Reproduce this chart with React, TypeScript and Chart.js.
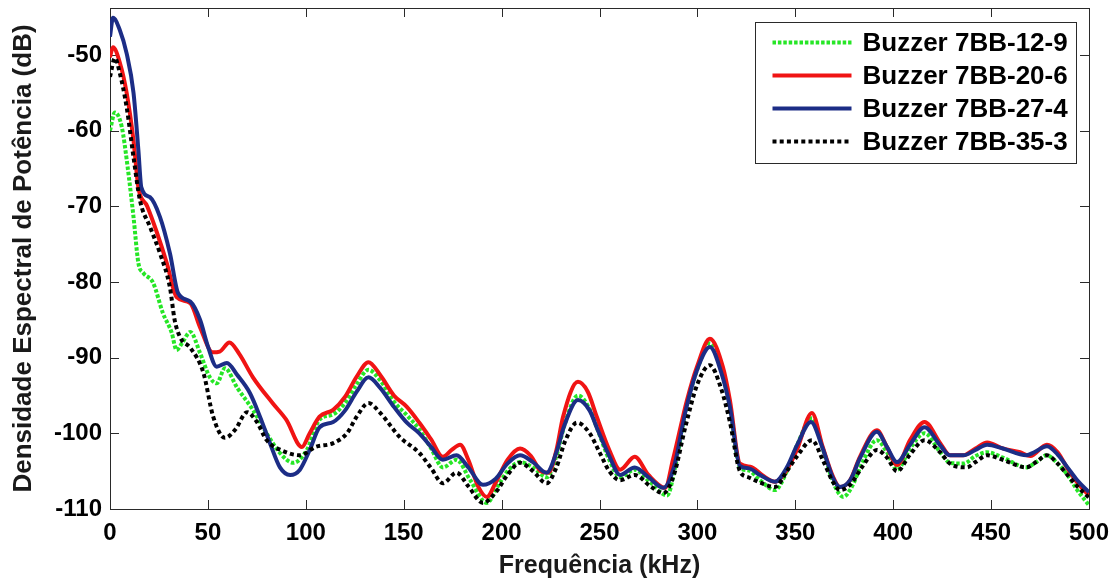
import React, { useEffect, useRef } from "react";
import { Chart, registerables } from "chart.js";

Chart.register(...registerables);

// ---- data ----
const xTickValues = [0, 50, 100, 150, 200, 250, 300, 350, 400, 450, 500];
const yTickValues = [-110, -100, -90, -80, -70, -60, -50];

const seriesLabels = ["Buzzer 7BB-12-9", "Buzzer 7BB-20-6", "Buzzer 7BB-27-4", "Buzzer 7BB-35-3"];

// Buzzer 7BB-12-9 (green dotted)
const gFreq = [0, 2.5, 6, 9, 12, 14.5, 17, 22, 27, 31.5, 34, 37, 41, 46, 51, 54.5, 58.7, 65, 73, 80, 86.8, 93.6, 100.5, 107, 114, 120, 126, 132, 138, 145, 151.6, 158, 164, 170, 177, 184, 192.5, 198, 203, 209.4, 216, 223, 228, 232, 239, 245, 249, 255, 260.5, 268, 276, 284.5, 289, 294, 300, 306.4, 312, 316.6, 321.7, 326, 332, 339.6, 345.7, 351, 358.5, 364, 369.4, 374.5, 379, 384, 391.7, 396.8, 402, 408.6, 416, 424, 429, 436, 442, 448, 456, 468, 473, 478.5, 484, 489, 494, 500];
const gPsd = [-60, -57.6, -59.5, -64.8, -71.4, -77.5, -78.8, -80.1, -84.1, -86.7, -89, -88, -86.6, -89.4, -92.6, -93.4, -91.4, -94, -96.9, -100, -102.6, -103.9, -102.2, -98.2, -97.5, -96, -93.5, -91.6, -93, -95.8, -97.6, -99.5, -102, -104.5, -103.5, -106.2, -109.2, -107, -105, -103.8, -104.5, -105.8, -103, -99, -95, -96.8, -99.5, -103.5, -105.8, -104.8, -106.5, -108.2, -104, -97, -91.5, -88.1, -91.5, -96.5, -104.5, -104.9, -106.2, -107.5, -105, -101.5, -98, -102, -106.5, -108.4, -107, -104, -100.9, -102.5, -104.8, -102, -100, -102.5, -103.9, -104, -103, -102.5, -103.2, -104.5, -103.8, -102.9, -104, -105.5, -107.5, -109.5];

// Buzzer 7BB-20-6 (red solid)
const rFreq = [0, 1.5, 5, 8.5, 12, 14.5, 19, 24, 29, 34, 41, 46, 52.5, 56, 61, 66, 73, 83, 90, 98, 102, 107, 114, 120, 126, 132, 138, 145, 151.6, 158, 164, 170, 174.5, 178.8, 183, 188, 192.5, 197, 203, 209.4, 215, 220, 224, 228, 231.4, 239, 244, 248.6, 255, 260.5, 268, 275, 283.5, 287.5, 294.7, 299.8, 306.4, 313, 316.6, 321.7, 327, 333, 339.6, 345.7, 350.8, 358.5, 364, 369.4, 372.8, 378, 383, 391.7, 396.8, 402, 408.6, 416, 424, 429, 435.6, 442, 448, 456, 464.8, 470, 478.5, 484, 488.7, 494, 500];
const rPsd = [-50.3, -49, -51, -55, -61.3, -67.5, -70, -73.5, -77.5, -82, -82.8, -86, -89.3, -89.2, -88, -89.5, -92.6, -96, -98.2, -101.8, -100, -97.8, -96.9, -95.2, -92.5, -90.6, -92.3, -95, -96.5, -98.6, -100.8, -103.1, -102.2, -101.5, -103.5, -107, -108.4, -106.5, -103.5, -102, -103, -105, -105.2, -102.2, -97.8, -93.2, -94.5, -97.8, -102.2, -104.8, -103.1, -105.5, -107.2, -103.5, -95.6, -91.2, -87.5, -91.2, -95.6, -104, -104.4, -105.5, -106.4, -104.8, -102.2, -97.3, -101.8, -105.8, -107.1, -106.2, -103.1, -99.6, -101.8, -104.2, -100.9, -98.5, -101.3, -102.9, -102.9, -102, -101.2, -102, -102.5, -103, -101.5, -102.5, -104.5, -106.5, -108.2];

// Buzzer 7BB-27-4 (blue solid)
const bFreq = [0, 1.5, 5, 8.5, 12, 14.5, 16, 20.4, 25.5, 30.6, 34.8, 41, 46, 50, 54.5, 59.7, 65, 71.5, 76.6, 81.7, 86.8, 92, 97, 102, 107, 114, 120, 126, 132, 138, 145, 151.6, 158, 164, 170, 177, 183, 190.5, 197, 203, 209.4, 216, 223, 228, 232, 239, 245, 249, 255, 260.5, 268, 275, 282.6, 288, 294, 300, 306.4, 312, 316.6, 321.7, 326, 332, 339.6, 345.7, 351, 358, 364, 369.4, 372.8, 378, 383, 391.7, 396.8, 402, 408.6, 416, 424, 429, 436, 442, 448, 456, 468, 472, 478.5, 484, 489, 494, 500];
const bPsd = [-47.6, -45.1, -46.7, -49.8, -55, -62.6, -67.5, -68.8, -71.4, -76.2, -81.5, -82.6, -85, -88.5, -91.2, -90.7, -92.3, -94.7, -97.8, -101.3, -104.5, -105.5, -104.8, -102.2, -99.2, -98.5, -97, -94.5, -92.6, -94, -96.5, -98.6, -100, -101.8, -103.5, -102.9, -104.5, -106.8, -106, -104, -102.9, -103.8, -105.2, -102.5, -99, -95.6, -97, -99.5, -103, -105.5, -104.5, -105.8, -107.2, -104.5, -97, -91.5, -88.6, -91.8, -96.5, -104.3, -104.6, -105.5, -106.4, -104.5, -101.5, -98.5, -102, -106, -107.1, -106.2, -103.3, -99.8, -101.8, -103.8, -101.5, -99.2, -101.6, -102.9, -102.9, -102.2, -101.5, -102, -102.9, -102.5, -101.7, -102.8, -104.5, -106.2, -107.8];

// Buzzer 7BB-35-3 (black dotted)
const kFreq = [0, 2.5, 5, 8.5, 12, 15.3, 20.4, 25.5, 30.6, 33, 36, 41, 47.7, 52.7, 58.7, 64, 70, 75, 80, 88, 97, 105, 114, 121, 126, 132, 138, 148, 158, 164, 170, 177, 183, 190.5, 197, 203, 209.4, 216, 223, 228, 232.5, 238.5, 245, 250, 255, 260.5, 268, 276, 282.6, 288, 294, 300, 306.4, 312, 316.6, 321.7, 326, 332, 339.6, 345.7, 351, 358.5, 364, 369.4, 372.8, 378, 384, 391.7, 396.8, 402, 408.6, 416, 424, 429, 437.6, 442, 448, 456, 468, 473, 478.5, 484, 489, 494, 500];
const kPsd = [-52.9, -50.4, -52.4, -56.9, -63.5, -69.2, -72.7, -76.2, -80.7, -85, -87.4, -88.7, -92, -97.8, -100.6, -99.5, -97.2, -98.5, -100.9, -102.3, -102.9, -101.8, -101.3, -100, -97.8, -96, -97.3, -100.5, -102.6, -104.6, -106.6, -105.2, -107, -109.2, -107.8, -105.5, -103.9, -105, -106.6, -104.5, -101, -98.6, -100, -102.5, -105, -106.2, -105.5, -107, -107.9, -105.5, -99, -93.5, -91, -94, -98.5, -105, -105.8, -106.5, -107.1, -105, -103, -100.9, -103.5, -106.5, -107.5, -106.8, -104.5, -102.2, -103.2, -105, -102.8, -100.9, -102.5, -104, -104.5, -103.8, -102.9, -103.5, -104.5, -103.8, -102.9, -104, -105.5, -107, -108.5];

const FONT_FAMILY = '"Liberation Sans", Arial, Helvetica, sans-serif';

const toPoints = (xs: number[], ys: number[]) => xs.map((x, i) => ({ x, y: ys[i] }));

const axesPlugin = {
  id: "matlabAxes",
  beforeDatasetsDraw(chart: any) {
    const { ctx, chartArea } = chart;
    const { left, right, top, bottom } = chartArea;
    const xs = chart.scales.x;
    const ys = chart.scales.y;
    const tl = 9;
    ctx.save();
    ctx.strokeStyle = "#2a2a2a";
    ctx.lineWidth = 1;
    ctx.beginPath();
    xTickValues.forEach((v) => {
      const px = Math.round(xs.getPixelForValue(v)) + 0.5;
      ctx.moveTo(px, bottom);
      ctx.lineTo(px, bottom - tl);
      ctx.moveTo(px, top);
      ctx.lineTo(px, top + tl);
    });
    yTickValues.forEach((v) => {
      const py = Math.round(ys.getPixelForValue(v)) + 0.5;
      ctx.moveTo(left, py);
      ctx.lineTo(left + tl, py);
      ctx.moveTo(right, py);
      ctx.lineTo(right - tl, py);
    });
    ctx.stroke();
    ctx.strokeRect(Math.round(left) + 0.5, Math.round(top) + 0.5, Math.round(right - left), Math.round(bottom - top));
    ctx.restore();
  },
};

const legendPlugin = {
  id: "boxLegend",
  afterDatasetsDraw(chart: any) {
    const { ctx, chartArea } = chart;
    const bw = 321;
    const bh = 141;
    const bx = Math.round(chartArea.right - 13 - bw) + 0.5;
    const by = Math.round(chartArea.top + 14) + 0.5;
    ctx.save();
    ctx.fillStyle = "#ffffff";
    ctx.fillRect(bx, by, bw, bh);
    ctx.strokeStyle = "#2a2a2a";
    ctx.lineWidth = 1;
    ctx.strokeRect(bx, by, bw, bh);
    chart.data.datasets.forEach((ds: any, i: number) => {
      const cy = by + 20 + i * 33;
      ctx.beginPath();
      ctx.strokeStyle = ds.borderColor;
      ctx.lineWidth = ds.borderWidth;
      ctx.setLineDash(ds.borderDash || []);
      ctx.moveTo(bx + 17, cy);
      ctx.lineTo(bx + 96, cy);
      ctx.stroke();
      ctx.setLineDash([]);
      ctx.fillStyle = "#000000";
      ctx.font = `bold 26px ${FONT_FAMILY}`;
      ctx.textBaseline = "middle";
      ctx.textAlign = "left";
      ctx.fillText(ds.label, bx + 107, cy + 1);
    });
    ctx.restore();
  },
};

export default function App() {
  const canvasRef = useRef<HTMLCanvasElement | null>(null);

  useEffect(() => {
    document.body.style.margin = "0";
    const canvas = canvasRef.current;
    if (!canvas) return;
    const common = {
      fill: false,
      pointRadius: 0,
      pointHoverRadius: 0,
      borderWidth: 4,
      cubicInterpolationMode: "monotone" as const,
      borderCapStyle: "butt" as const,
    };
    const chart = new Chart(canvas, {
      type: "line",
      data: {
        datasets: [
          { ...common, label: seriesLabels[0], data: toPoints(gFreq, gPsd), borderColor: "#26e626", borderDash: [3.5, 1.9], order: 4 },
          { ...common, label: seriesLabels[1], data: toPoints(rFreq, rPsd), borderColor: "#f01414", order: 3 },
          { ...common, label: seriesLabels[2], data: toPoints(bFreq, bPsd), borderColor: "#1c2d86", order: 2 },
          { ...common, label: seriesLabels[3], data: toPoints(kFreq, kPsd), borderColor: "#000000", borderDash: [4, 3.2], order: 1 },
        ],
      },
      options: {
        animation: false,
        responsive: true,
        maintainAspectRatio: false,
        layout: { padding: { top: 8, right: 30, left: 0, bottom: 0 } },
        plugins: {
          legend: { display: false },
          tooltip: { enabled: false },
        },
        scales: {
          x: {
            type: "linear",
            min: 0,
            max: 500,
            afterBuildTicks: (s: any) => {
              s.ticks = xTickValues.map((v) => ({ value: v }));
            },
            afterFit: (s: any) => {
              s.height = 74;
              s.paddingLeft = 0;
              s.paddingRight = 0;
            },
            grid: { display: false, drawTicks: false },
            border: { display: false },
            ticks: {
              autoSkip: false,
              maxRotation: 0,
              padding: 10,
              color: "#000000",
              font: { family: FONT_FAMILY, size: 24, weight: "bold" },
            },
            title: {
              display: true,
              text: "Frequência (kHz)",
              color: "#1a1a1a",
              font: { family: FONT_FAMILY, size: 25, weight: "bold" },
              padding: { top: 0, bottom: 2 },
            },
          },
          y: {
            type: "linear",
            min: -110,
            max: -43.8,
            afterBuildTicks: (s: any) => {
              s.ticks = yTickValues.map((v) => ({ value: v }));
            },
            afterFit: (s: any) => {
              s.width = 110;
              s.paddingTop = 0;
              s.paddingBottom = 0;
            },
            grid: { display: false, drawTicks: false },
            border: { display: false },
            ticks: {
              autoSkip: false,
              padding: 8,
              color: "#000000",
              font: { family: FONT_FAMILY, size: 24, weight: "bold" },
            },
            title: {
              display: true,
              text: "Densidade Espectral de Potência (dB)",
              color: "#1a1a1a",
              font: { family: FONT_FAMILY, size: 26, weight: "bold" },
              padding: { top: 8, bottom: 0 },
            },
          },
        },
      },
      plugins: [axesPlugin, legendPlugin],
    });
    return () => chart.destroy();
  }, []);

  return (
    <div style={{ width: 1119, height: 583, position: "relative" }}>
      <canvas ref={canvasRef} />
    </div>
  );
}
